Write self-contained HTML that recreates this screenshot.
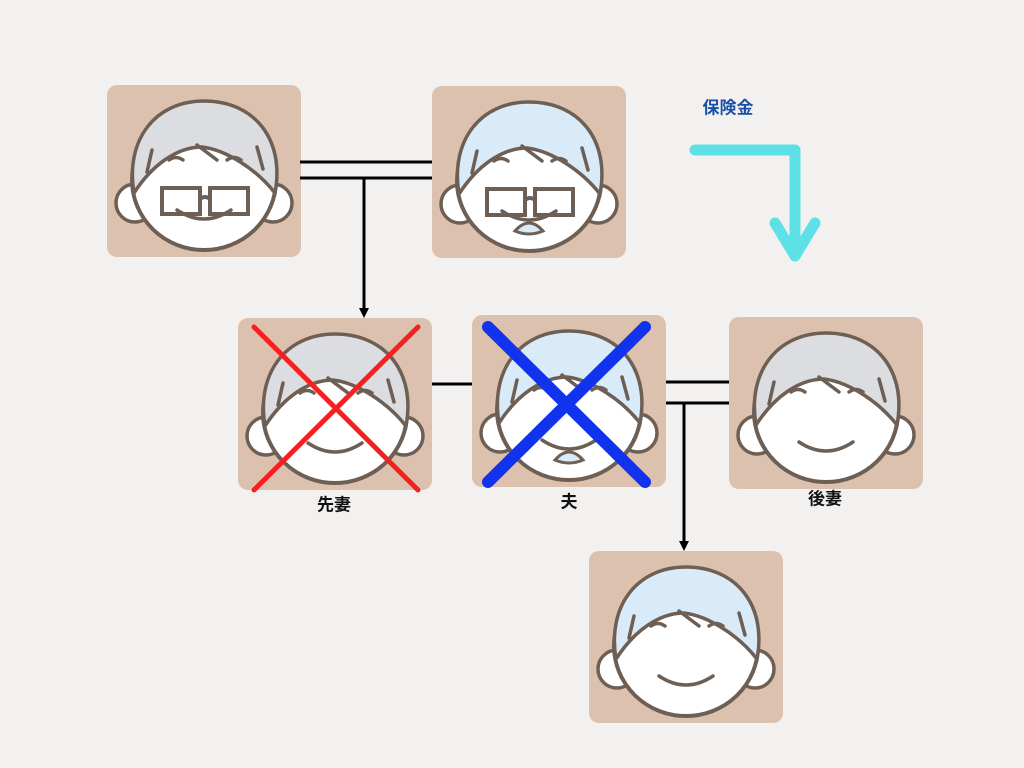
<!DOCTYPE html>
<html><head><meta charset="utf-8"><style>
html,body{margin:0;padding:0;background:#f3f1ef;}
.l{position:absolute;font-family:"Liberation Sans","Noto Sans CJK JP",sans-serif;font-weight:bold;font-size:17px;color:#111;transform:translate(-50%,-50%);white-space:nowrap}
</style></head><body>
<div style="position:relative;width:1024px;height:768px;overflow:hidden">
<svg width="1024" height="768" style="position:absolute;left:0;top:0">
<defs>
<g id="face">
<rect x="0" y="0" width="194" height="172" rx="10" fill="#dcc1ae"/>
<circle cx="28" cy="118" r="19" fill="#fff" stroke="#6e5f55" stroke-width="3.5"/>
<circle cx="166" cy="118" r="19" fill="#fff" stroke="#6e5f55" stroke-width="3.5"/>
<ellipse cx="97" cy="95" rx="72" ry="70" fill="#fff" stroke="#6e5f55" stroke-width="4"/>
</g>
<g id="hairG"><path d="M27 108 C18 55 48 16 97 16 C148 16 178 55 168 108 C150 85 120 65 95 62 C70 62 45 80 27 108Z" fill="#dcdde0" stroke="#6e5f55" stroke-width="3.5"/></g>
<g id="hairB"><path d="M27 108 C18 55 48 16 97 16 C148 16 178 55 168 108 C150 85 120 65 95 62 C70 62 45 80 27 108Z" fill="#d9eaf8" stroke="#6e5f55" stroke-width="3.5"/></g>
<g id="feat" fill="none" stroke="#6e5f55" stroke-width="3.5" stroke-linecap="round">
<path d="M62 75 q7 -5 14 0 M120 75 q7 -5 14 0"/>
<path d="M70 125 q27 18 54 0"/>
<path d="M45 65 l-5 22 M150 62 l6 22 M90 60 l20 15"/>
</g>
<g id="glasses" fill="none" stroke="#6e5f55" stroke-width="4"><rect x="55" y="103" width="38" height="26"/><rect x="103" y="103" width="38" height="26"/><path d="M93 114 q5 -4 10 0"/></g>
</defs>
<g transform="translate(107,85)"><use href="#face"/><use href="#hairG"/><use href="#feat"/><use href="#glasses"/></g>
<g transform="translate(432,86)"><use href="#face"/><use href="#hairB"/><use href="#feat"/><use href="#glasses"/><path d="M83 145 q14 -16 28 0 q-14 6 -28 0Z" fill="#d9eaf8" stroke="#6e5f55" stroke-width="3"/></g>
<g transform="translate(238,318)"><use href="#face"/><use href="#hairG"/><use href="#feat"/></g>
<g transform="translate(472,315)"><use href="#face"/><use href="#hairB"/><use href="#feat"/><path d="M83 145 q14 -16 28 0 q-14 6 -28 0Z" fill="#d9eaf8" stroke="#6e5f55" stroke-width="3"/></g>
<g transform="translate(729,317)"><use href="#face"/><use href="#hairG"/><use href="#feat"/></g>
<g transform="translate(589,551)"><use href="#face"/><use href="#hairB"/><use href="#feat"/></g>
<g stroke="#000" stroke-width="3" fill="none">
<path d="M300 162H432M300 178H432M364 178V312"/>
<path d="M432 384H472"/>
<path d="M666 382H729M666 403H729M684 403V544"/>
</g>
<path d="M359 308L364 318L369 308Z M679 541L684 551L689 541Z" fill="#000"/>
<g stroke="#f52020" stroke-width="5" stroke-linecap="round"><path d="M254 327L418 490M418 327L254 490"/></g>
<g stroke="#1133ee" stroke-width="12" stroke-linecap="round"><path d="M488 327L645 482M645 327L488 482"/></g>
<g stroke="#5ee1e6" stroke-width="11" stroke-linecap="round" stroke-linejoin="round" fill="none"><path d="M695 150H795V255M775 223L795 256L815 223"/></g>
</svg>
<div class="l" style="left:728px;top:106px;color:#1a4fa8">保険金</div>
<div class="l" style="left:334px;top:503px">先妻</div>
<div class="l" style="left:569px;top:500px">夫</div>
<div class="l" style="left:825px;top:497px">後妻</div>
</div>
</body></html>
